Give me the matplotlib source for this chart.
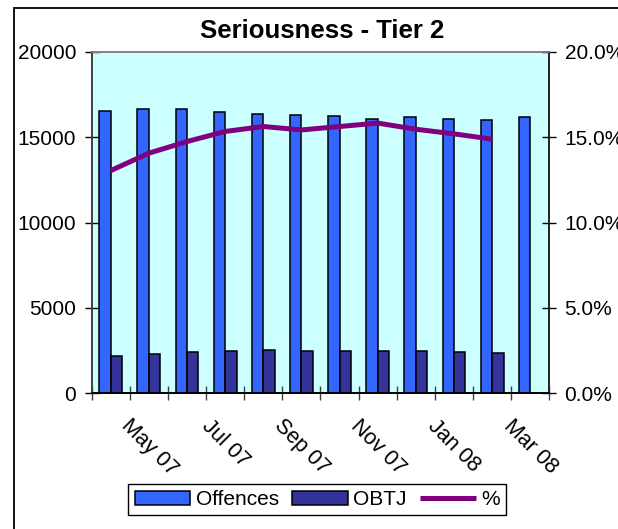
import matplotlib
matplotlib.use("Agg")
import matplotlib.pyplot as plt
from matplotlib.patches import Rectangle
import numpy as np

plt.rcParams['font.family'] = ['Liberation Sans', 'DejaVu Sans']

months = ["Apr 07", "May 07", "Jun 07", "Jul 07", "Aug 07", "Sep 07",
          "Oct 07", "Nov 07", "Dec 07", "Jan 08", "Feb 08", "Mar 08"]
offences = [16540, 16660, 16660, 16490, 16370, 16310, 16250, 16070, 16170, 16070, 16030, 16170]
obtj = [2170, 2290, 2420, 2480, 2520, 2480, 2480, 2500, 2460, 2400, 2360, np.nan]
pct = [0.1304, 0.1406, 0.1474, 0.1533, 0.1562, 0.1542, 0.1562, 0.1582, 0.1546, 0.1519, 0.1488, np.nan]

W, H = 618, 529
fig = plt.figure(figsize=(W / 100, H / 100), dpi=100)

# outer chart border
fig.patches.append(Rectangle((13.5 / W, -0.2), 1.2, 1.2 - 7.5 / H,
                             transform=fig.transFigure, fill=False,
                             edgecolor='black', linewidth=1.3))

ax = fig.add_axes([91.7 / W, 1 - 393.3 / H, (549.3 - 91.7) / W, (393.3 - 51.7) / H])
ax.set_facecolor('#CCFFFF')
x = np.arange(len(months))
bw = 0.3
b1 = ax.bar(x - bw / 2, offences, width=bw, color='#3366FF', edgecolor='black', linewidth=1.1, label='Offences', zorder=2)
b2 = ax.bar(x + bw / 2, obtj, width=bw, color='#333399', edgecolor='black', linewidth=1.1, label='OBTJ', zorder=2)
ax.set_xlim(-0.5, len(months) - 0.5)
ax.set_ylim(0, 20000)
ax.set_yticks([0, 5000, 10000, 15000, 20000])
ax.set_yticklabels(['0', '5000', '10000', '15000', '20000'])
ax.tick_params(axis='y', direction='inout', length=9.5, width=1, pad=6.5, labelsize=15, colors='black')

ax.set_xticks(np.arange(len(months) + 1) - 0.5)
ax.set_xticklabels([])
ax.tick_params(axis='x', which='major', direction='inout', length=9.5, width=1, color='#404040')
ax.set_xticks(x, minor=True)
ax.set_xticklabels([m if i % 2 == 1 else '' for i, m in enumerate(months)], minor=True,
                   rotation=-45, ha='center', va='top', fontsize=15.5)
ax.tick_params(axis='x', which='minor', length=0, pad=16)

ax2 = ax.twinx()
ax2.set_position(ax.get_position())
l1, = ax2.plot(x, pct, color='#800080', linewidth=3.6, label='%', solid_capstyle='butt', zorder=3)
ax2.set_ylim(0, 0.2)
ax2.set_yticks([0, 0.05, 0.10, 0.15, 0.20])
ax2.set_yticklabels(['0.0%', '5.0%', '10.0%', '15.0%', '20.0%'])
ax2.tick_params(axis='y', direction='inout', length=10, width=1, pad=6, labelsize=15)

for a in (ax, ax2):
    a.spines['top'].set_color('#808080')
    a.spines['left'].set_color('#404040')
    a.spines['right'].set_color('#202020')
    a.spines['bottom'].set_color('black')
    for s in a.spines.values():
        s.set_linewidth(1.2)

fig.text(322 / W, 1 - 38.5 / H, 'Seriousness - Tier 2', ha='center', va='baseline',
         fontsize=18.5, fontweight='bold')

leg = fig.legend([b1, b2, l1], ['Offences', 'OBTJ', '%'], loc='center',
                 bbox_to_anchor=(317.4 / W, 1 - 499.5 / H), ncol=3, fontsize=15,
                 frameon=True, fancybox=False, shadow=False, framealpha=1,
                 handlelength=2.65, handleheight=0.65, handletextpad=0.28,
                 columnspacing=0.65, borderpad=0.3, borderaxespad=0)
leg.get_frame().set_edgecolor('black')
leg.get_frame().set_linewidth(1.0)

fig.savefig('out.png', dpi=100)
